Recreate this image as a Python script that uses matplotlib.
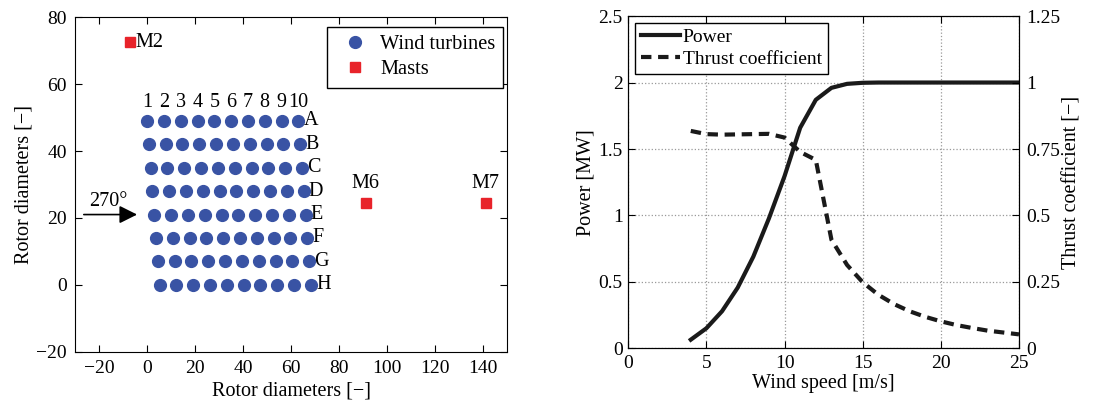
import numpy as np
import matplotlib
matplotlib.use('Agg')
import matplotlib.pyplot as plt
from matplotlib.ticker import FuncFormatter

plt.rcParams['font.family'] = ['Liberation Serif', 'DejaVu Serif']
plt.rcParams['font.size'] = 14
plt.rcParams['axes.unicode_minus'] = True
plt.rcParams['xtick.direction'] = 'in'
plt.rcParams['ytick.direction'] = 'in'

# Layout data (rotor diameters)
row_names = ['A', 'B', 'C', 'D', 'E', 'F', 'G', 'H']
row_y = [49, 42, 35, 28, 21, 14, 7, 0]
row_shift = [0.0, 0.75, 1.5, 2.2, 3.0, 3.7, 4.5, 5.2]
column_x = [0, 7, 14, 21, 28, 35, 42, 49, 56, 63]
column_labels = ['1', '2', '3', '4', '5', '6', '7', '8', '9', '10']
mast_names = ['M2', 'M6', 'M7']
mast_x = [-7, 91, 141]
mast_y = [72.5, 24.5, 24.5]

# Power / thrust curves
wind_speed = [4, 5, 6, 7, 8, 9, 10, 11, 12, 13, 14, 15, 16, 17, 18, 19, 20, 21, 22, 23, 24, 25]
power_mw = [0.066, 0.152, 0.280, 0.457, 0.690, 0.978, 1.296, 1.66, 1.87, 1.96, 1.99, 1.998, 2.0, 2.0,
            2.0, 2.0, 2.0, 2.0, 2.0, 2.0, 2.0, 2.0]
thrust_ct = [0.818, 0.806, 0.804, 0.805, 0.806, 0.807, 0.793, 0.739, 0.709, 0.409, 0.314, 0.249, 0.202,
             0.167, 0.140, 0.119, 0.102, 0.088, 0.077, 0.067, 0.060, 0.053]

blue = '#3953a4'
red = '#e8232a'

fig = plt.figure(figsize=(11.1, 4.01), dpi=100)
ax1 = fig.add_axes([0.0676, 0.123, 0.457 - 0.0676, 0.957 - 0.123])
ax2 = fig.add_axes([0.566, 0.131, 0.918 - 0.566, 0.960 - 0.131])

# Left: wind farm layout
xs, ys = [], []
for y, s in zip(row_y, row_shift):
    for cx in column_x:
        xs.append(cx + s)
        ys.append(y)
ax1.plot(xs, ys, 'o', color=blue, markersize=8.5, linestyle='none', label='Wind turbines')
ax1.plot(mast_x, mast_y, 's', color=red, markersize=6.5, linestyle='none', label='Masts')

for name, y, s in zip(row_names, row_y, row_shift):
    ax1.text(column_x[-1] + s + 2.2, y, name, ha='left', va='center', fontsize=14.5)
for lab, cx in zip(column_labels, column_x):
    ax1.text(cx, 51.8, lab, ha='center', va='bottom', fontsize=14.5)
ax1.text(mast_x[0] + 2.3, mast_y[0], mast_names[0], ha='left', va='center', fontsize=14.5)
for name, mx, my in zip(mast_names[1:], mast_x[1:], mast_y[1:]):
    ax1.text(mx, my + 3, name, ha='center', va='bottom', fontsize=14.5)

ax1.annotate('', xy=(-3, 21), xytext=(-27.5, 21),
             arrowprops=dict(arrowstyle='-|>', color='black', lw=1.2, mutation_scale=27))
ax1.text(-16, 22, '270°', ha='center', va='bottom', fontsize=14.5)

ax1.set_xlim(-30, 150)
ax1.set_ylim(-20, 80)
ax1.set_xticks(np.arange(-20, 141, 20))
ax1.set_yticks(np.arange(-20, 81, 20))
ax1.tick_params(top=True, right=True, length=5, pad=6)
ax1.set_xlabel('Rotor diameters [−]', labelpad=3, fontsize=14.5)
ax1.set_ylabel('Rotor diameters [−]', labelpad=2, fontsize=14.5)
leg1 = ax1.legend(loc='upper right', bbox_to_anchor=(0.991, 0.972), fancybox=False,
                  edgecolor='black', framealpha=1, borderaxespad=0, handletextpad=0.2,
                  handlelength=2.0, labelspacing=0.3, fontsize=14.7)
leg1.get_frame().set_linewidth(1.0)

# Right: power and thrust curves
ax3 = ax2.twinx()
l1, = ax2.plot(wind_speed, power_mw, color='#1a1a1a', linewidth=3, label='Power')
l2, = ax3.plot(wind_speed, thrust_ct, color='#1a1a1a', linewidth=3, linestyle=(0, (2.5, 1.6)),
               label='Thrust coefficient')
ax2.set_xlim(0, 25)
ax2.set_ylim(0, 2.5)
ax3.set_ylim(0, 1.25)
ax2.set_xticks([0, 5, 10, 15, 20, 25])
ax2.set_yticks([0, 0.5, 1, 1.5, 2, 2.5])
ax3.set_yticks([0, 0.25, 0.5, 0.75, 1, 1.25])
fmt = FuncFormatter(lambda v, p: '%g' % v)
ax2.yaxis.set_major_formatter(fmt)
ax3.yaxis.set_major_formatter(fmt)
ax2.grid(True, linestyle=':', color='#999999', linewidth=0.9)
ax2.tick_params(top=True, length=5, pad=5)
ax2.tick_params(axis='y', pad=4)
ax3.tick_params(length=5, pad=5)
ax2.set_xlabel('Wind speed [m/s]', labelpad=1, fontsize=14.5)
ax2.set_ylabel('Power [MW]', labelpad=2, fontsize=14.5)
ax3.set_ylabel('Thrust coefficient [−]', labelpad=2, fontsize=14.5)
leg2 = ax2.legend([l1, l2], ['Power', 'Thrust coefficient'], loc='upper left', fancybox=False,
                  edgecolor='black', framealpha=1, borderaxespad=0.35, handlelength=2.0,
                  handletextpad=0.15, borderpad=0.3, labelspacing=0.2)
leg2.get_frame().set_linewidth(1.0)

fig.savefig('out.png', dpi=100)
